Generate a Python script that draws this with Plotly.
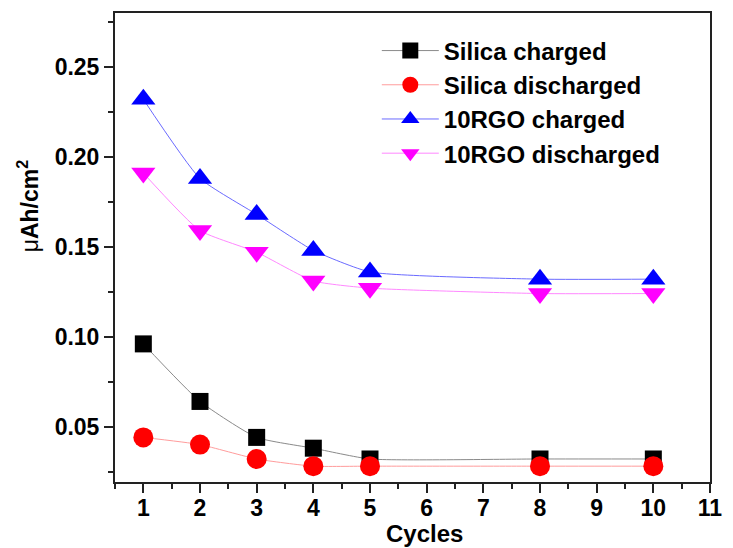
import plotly.graph_objects as go

# Capacity per cycle for the two electrode types
cycles = [1, 2, 3, 4, 5, 8, 10]
silica_charged = [0.096, 0.064, 0.044, 0.038, 0.032, 0.032, 0.032]
silica_discharged = [0.044, 0.040, 0.032, 0.028, 0.028, 0.028, 0.028]
rgo_charged = [0.232, 0.188, 0.168, 0.148, 0.136, 0.132, 0.132]
rgo_discharged = [0.191, 0.159, 0.147, 0.131, 0.127, 0.124, 0.124]

x_ticks = list(range(1, 12))
y_ticks = [0.05, 0.10, 0.15, 0.20, 0.25]
y_tick_labels = ["0.05", "0.10", "0.15", "0.20", "0.25"]

FONT = "Liberation Sans, Arial, sans-serif"
AXIS_COLOR = "#222222"

series = [
    ("Silica charged", silica_charged, "#000000", "#8a8a8a", "square", 17),
    ("Silica discharged", silica_discharged, "#ff0000", "#ff9c9c", "circle", 20),
    ("10RGO charged", rgo_charged, "#0000ff", "#6a6aff", "triangle-up", 21),
    ("10RGO discharged", rgo_discharged, "#ff00ff", "#ff88ff", "triangle-down", 21),
]

fig = go.Figure()
for name, values, mcolor, lcolor, symbol, size in series:
    fig.add_trace(go.Scatter(
        x=cycles, y=values, name=name, mode="lines+markers",
        line=dict(color=lcolor, width=1, shape="spline", smoothing=0.5),
        marker=dict(symbol=symbol, size=size, color=mcolor, line=dict(width=0)),
    ))

axis_common = dict(
    showline=True, linewidth=2, linecolor=AXIS_COLOR, mirror=True,
    ticks="outside", ticklen=9, tickwidth=2, tickcolor=AXIS_COLOR,
    showgrid=False, zeroline=False,
    tickfont=dict(family=FONT, size=23, color="#000000", weight="bold"),
)

fig.update_xaxes(
    range=[0.5, 11], tickmode="array", tickvals=x_ticks, ticklabelstandoff=-5,
    minor=dict(dtick=0.5, tick0=0.5, ticklen=5, tickwidth=2, tickcolor=AXIS_COLOR, ticks="outside"),
    **axis_common,
)
fig.update_yaxes(
    range=[0.0192, 0.2800], tickmode="array", tickvals=y_ticks, ticktext=y_tick_labels,
    minor=dict(dtick=0.025, tick0=0.025, ticklen=5, tickwidth=2, tickcolor=AXIS_COLOR, ticks="outside"),
    **axis_common,
)

fig.update_layout(
    width=733, height=548,
    margin=dict(l=115, r=16, t=11, b=66),
    paper_bgcolor="white", plot_bgcolor="white",
    showlegend=True,
    legend=dict(
        x=0.44, y=0.967, xanchor="left", yanchor="top",
        bgcolor="rgba(0,0,0,0)", borderwidth=0,
        font=dict(family=FONT, size=24, color="#000000", weight="bold"),
        itemwidth=57, tracegroupgap=0,
    ),
    annotations=[
        dict(
            text="Cycles", xref="paper", yref="paper", x=0.52, y=-0.11,
            xanchor="center", yanchor="middle", showarrow=False,
            font=dict(family=FONT, size=24, color="#000000", weight="bold"),
        ),
        dict(
            text="<span style='font-weight:normal'>μ</span>Ah/cm<sup>2</sup>",
            xref="paper", yref="paper", x=-0.146, y=0.588, textangle=-90,
            xanchor="center", yanchor="middle", showarrow=False,
            font=dict(family=FONT, size=23, color="#000000", weight="bold"),
        ),
    ],
)

fig.write_html("out.html")
